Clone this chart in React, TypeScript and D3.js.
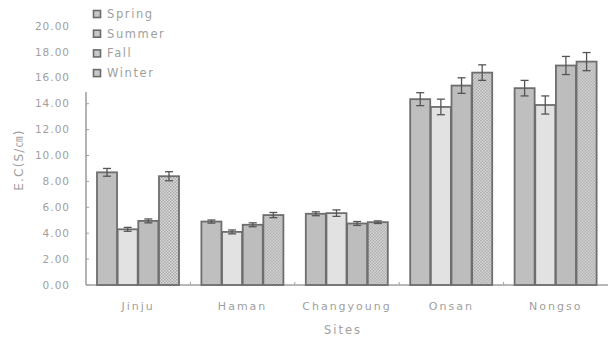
import React from "react";
import * as d3 from "d3";

const sites = ["Jinju", "Haman", "Changyoung", "Onsan", "Nongso"];
const seasons = ["Spring", "Summer", "Fall", "Winter"];
const spring = [8.7, 4.9, 5.5, 14.35, 15.2];
const summer = [4.3, 4.1, 5.55, 13.75, 13.9];
const fall = [4.95, 4.65, 4.75, 15.4, 16.95];
const winter = [8.4, 5.4, 4.85, 16.4, 17.25];
const springErr = [0.3, 0.12, 0.15, 0.5, 0.6];
const summerErr = [0.15, 0.15, 0.25, 0.6, 0.7];
const fallErr = [0.15, 0.15, 0.15, 0.6, 0.7];
const winterErr = [0.35, 0.2, 0.1, 0.6, 0.7];
const yTicks = [0, 2, 4, 6, 8, 10, 12, 14, 16, 18, 20];

const W = 614;
const H = 346;
const FONT = "'DejaVu Sans', 'Liberation Sans', sans-serif";
const TEXT = "#a0a0a0";
const EDGE = "#6e6e6e";

const seriesValues = [spring, summer, fall, winter];
const seriesErrors = [springErr, summerErr, fallErr, winterErr];
const fills = ["#bfbfbf", "#e2e2e2", "#bdbdbd", "url(#winterCheck)"];

export default function App() {
  const x = d3.scaleBand<string>().domain(sites).range([86, 608]);
  const inner = d3
    .scaleBand<string>()
    .domain(seasons)
    .range([11, 93])
    .paddingInner(0.03);
  const y = d3.scaleLinear().domain([0, 20]).range([285, 26]);

  return (
    <svg
      width={W}
      height={H}
      style={{ position: "absolute", left: 0, top: 0, background: "#fff" }}
      fontFamily={FONT}
    >
      <defs>
        <pattern id="winterCheck" width={3} height={3} patternUnits="userSpaceOnUse">
          <rect width={3} height={3} fill="#dcdcdc" />
          <rect width={1.5} height={1.5} fill="#a8a8a8" />
          <rect x={1.5} y={1.5} width={1.5} height={1.5} fill="#a8a8a8" />
        </pattern>
      </defs>

      {/* y axis */}
      <line x1={86} x2={86} y1={y(0)} y2={y(20)} stroke="#a0a0a0" strokeWidth={1.6} />
      {yTicks.map((t) => (
        <g key={t}>
          <line x1={86} x2={89} y1={y(t)} y2={y(t)} stroke="#a0a0a0" strokeWidth={1} />
          <text
            x={70}
            y={y(t)}
            dy="0.35em"
            textAnchor="end"
            fontSize={10.5}
            letterSpacing={1}
            fill={TEXT}
          >
            {t.toFixed(2)}
          </text>
        </g>
      ))}

      {/* x axis */}
      <line x1={86} x2={608} y1={285} y2={285} stroke="#a0a0a0" strokeWidth={1.6} />
      {sites.slice(1).map((s) => (
        <line
          key={s}
          x1={x(s)!}
          x2={x(s)!}
          y1={285}
          y2={282}
          stroke="#a0a0a0"
          strokeWidth={1}
        />
      ))}

      {/* bars */}
      {sites.map((site, i) => (
        <g key={site} transform={`translate(${x(site)},0)`}>
          {seasons.map((season, k) => {
            const v = seriesValues[k][i];
            const e = seriesErrors[k][i];
            const bx = inner(season)!;
            const bw = inner.bandwidth();
            const cx = bx + bw / 2;
            return (
              <g key={season}>
                <rect
                  x={bx}
                  y={y(v)}
                  width={bw}
                  height={y(0) - y(v)}
                  fill={fills[k]}
                  stroke={EDGE}
                  strokeWidth={1.8}
                />
                <line x1={cx} x2={cx} y1={y(v + e)} y2={y(v - e)} stroke="#555" strokeWidth={1.3} />
                <line x1={cx - 4} x2={cx + 4} y1={y(v + e)} y2={y(v + e)} stroke="#555" strokeWidth={1.3} />
                <line x1={cx - 4} x2={cx + 4} y1={y(v - e)} y2={y(v - e)} stroke="#555" strokeWidth={1.3} />
              </g>
            );
          })}
          <text
            x={x.bandwidth() / 2}
            y={306}
            dy="0.35em"
            textAnchor="middle"
            fontSize={11}
            letterSpacing={2}
            fill={TEXT}
          >
            {site}
          </text>
        </g>
      ))}

      {/* axis titles */}
      <text
        x={343}
        y={330}
        dy="0.35em"
        textAnchor="middle"
        fontSize={11.5}
        letterSpacing={2}
        fill={TEXT}
      >
        Sites
      </text>
      <text
        transform="translate(19,160) rotate(-90)"
        textAnchor="middle"
        dy="0.35em"
        fontSize={12}
        letterSpacing={1.2}
        fill={TEXT}
      >
        E.C(S/<tspan fontFamily="'Noto Sans CJK KR', sans-serif" fontSize={11}>㎝</tspan>)
      </text>

      {/* legend */}
      <rect x={80} y={0} width={100} height={92} fill="#fff" />
      {seasons.map((s, k) => (
        <g key={s} transform={`translate(93,${14 + k * 19.7})`}>
          <rect x={0.5} y={-3.5} width={7} height={7} fill="#c8c8c8" stroke="#6a6a6a" strokeWidth={1.6} />
          <text x={14} y={0} dy="0.35em" fontSize={11.5} letterSpacing={1.6} fill={TEXT}>
            {s}
          </text>
        </g>
      ))}
    </svg>
  );
}
